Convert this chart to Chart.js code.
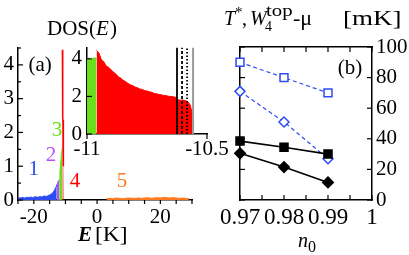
<!DOCTYPE html>
<html>
<head>
<meta charset="utf-8">
<script src="https://cdn.jsdelivr.net/npm/chart.js@4.4.1/dist/chart.umd.min.js"></script>
<style>
html, body { margin: 0; padding: 0; background: #fff; }
#wrap { position: relative; width: 409px; height: 255px; overflow: hidden; }
canvas { position: absolute; }
</style>
</head>
<body>
<div id="wrap">
  <canvas id="dos" width="200" height="255" style="left:0;top:0"></canvas>
  <canvas id="temps" width="209" height="255" style="left:200px;top:0"></canvas>
  <canvas id="inset" width="180" height="140" style="left:60px;top:30px"></canvas>
</div>
<script>
// panel (a): DOS(E), E in K, one piece per colour
const eBlue = [-25, -24.5, -24, -23.5, -23, -22.5, -22, -21.5, -21, -20.5, -20, -19.5, -19,
  -18.5, -18, -17.5, -17, -16.5, -16, -15.5, -15, -14.5, -14, -13.5, -13, -12.75];
const dosBlue = [0.05, 0.07, 0.06, 0.08, 0.06, 0.07, 0.08, 0.07, 0.09, 0.07, 0.08, 0.1, 0.08,
  0.09, 0.1, 0.09, 0.11, 0.12, 0.1, 0.13, 0.15, 0.17, 0.22, 0.28, 0.38, 0.45];
const ePurple = [-12.75, -12.5, -12.25, -12];
const dosPurple = [0.45, 0.5, 0.56, 0.6];
const eGreen = [-12, -11.75, -11.5, -11.25, -11];
const dosGreen = [0.6, 0.85, 1.1, 1.35, 1.55];
const eOrange = [3, 4, 5, 6, 7, 8, 9, 10, 11, 12, 13, 14, 15, 16, 17, 18, 19, 20, 21, 22, 23, 24, 25, 26, 27, 28, 29];
const dosOrange = [0.04, 0.05, 0.04, 0.06, 0.05, 0.04, 0.05, 0.06, 0.05, 0.05, 0.06, 0.05, 0.06, 0.07,
  0.05, 0.06, 0.07, 0.06, 0.08, 0.07, 0.06, 0.07, 0.06, 0.05, 0.06, 0.05, 0.04];

// inset: zoom on -11 .. -10.5
const eInGreen = [-11, -10.995, -10.99, -10.985, -10.98, -10.975, -10.97, -10.965, -10.96];
const dosInGreen = [4.0, 4.05, 4.02, 3.9, 3.95, 4.05, 4.03, 4.06, 4.0];
const eInRed = [-10.96, -10.95, -10.94, -10.93, -10.92, -10.91, -10.9, -10.89, -10.88, -10.87,
  -10.86, -10.85, -10.84, -10.83, -10.82, -10.81, -10.8, -10.79, -10.78, -10.77,
  -10.76, -10.75, -10.74, -10.73, -10.72, -10.71, -10.7, -10.69, -10.68, -10.67,
  -10.66, -10.65, -10.64, -10.63, -10.62, -10.61, -10.6, -10.59, -10.58, -10.57, -10.56];
const dosInRed = [4.45, 4.3, 3.95, 3.85, 3.62, 3.55, 3.42, 3.3, 3.2, 3.05,
  2.98, 2.86, 2.8, 2.7, 2.62, 2.58, 2.5, 2.46, 2.4, 2.37,
  2.31, 2.29, 2.25, 2.22, 2.16, 2.14, 2.1, 2.09, 2.05, 2.04,
  2.01, 1.99, 1.98, 1.95, 1.82, 1.8, 1.81, 1.78, 1.72, 1.55, 1.0];
const markE = [-10.625, -10.604, -10.583, -10.558];

// panel (b)
const n0 = [0.97, 0.98, 0.99];
const blueSquares = [90, 80, 70];
const blueDiamonds = [71, 51, 27];
const blackSquares = [38.5, 34.5, 30];
const blackDiamonds = [30.5, 21.5, 11.5];

const BLUE = '#2c4cf2', PURPLE = '#b650ff', GREEN = '#6ade1c', RED = '#ff0000', ORANGE = '#ff7a1e';
const SERIF = "'Liberation Serif'";
const tickFont = { family: SERIF, size: 21 };

Chart.defaults.color = '#000';
Chart.defaults.font.family = SERIF;

const onStep = (v, step) => Math.abs(v / step - Math.round(v / step)) < 1e-6;
const pts = (xs, ys) => xs.map((x, i) => ({ x: x, y: ys[i] }));
const f = (size, style) => (style ? style + ' ' : '') + size + 'px ' + SERIF;

function area(xs, ys, color, w) {
  return {
    data: pts(xs, ys),
    borderColor: color,
    backgroundColor: color,
    borderWidth: w || 1,
    fill: 'origin',
    pointRadius: 0,
    tension: 0
  };
}

// tick marks drawn at the scale's own tick values
function tickMarks(specs) {
  return {
    id: 'tickMarks',
    afterDraw(chart) {
      const ctx = chart.ctx, a = chart.chartArea;
      ctx.save();
      ctx.strokeStyle = '#000';
      ctx.lineWidth = 1.2;
      specs.forEach(s => {
        const sc = chart.scales[s.axis];
        sc.ticks.forEach(t => {
          const v = t.value;
          if (!onStep(v, s.step)) return;
          const len = onStep(v, s.major || s.step) ? s.len : s.len * 0.6;
          const p = sc.getPixelForValue(v);
          ctx.beginPath();
          if (s.edge === 'bottom') { ctx.moveTo(p, a.bottom); ctx.lineTo(p, a.bottom + s.dir * len); }
          else if (s.edge === 'top') { ctx.moveTo(p, a.top); ctx.lineTo(p, a.top + s.dir * len); }
          else if (s.edge === 'left') { ctx.moveTo(a.left, p); ctx.lineTo(a.left + s.dir * len, p); }
          else { ctx.moveTo(a.right, p); ctx.lineTo(a.right + s.dir * len, p); }
          ctx.stroke();
        });
      });
      ctx.restore();
    }
  };
}

// free text; items with data:true are placed through the x/y scales
function textLayer(items) {
  return {
    id: 'textLayer',
    afterDraw(chart) {
      const ctx = chart.ctx;
      items.forEach(it => {
        let x = it.x, y = it.y;
        if (it.data) {
          x = chart.scales.x.getPixelForValue(it.x);
          y = chart.scales.y.getPixelForValue(it.y);
        }
        ctx.save();
        ctx.translate(x, y);
        ctx.scale(it.sx || 1, 1);
        ctx.font = it.font;
        ctx.fillStyle = it.color || '#000';
        ctx.textAlign = it.align || 'left';
        ctx.textBaseline = it.base || 'alphabetic';
        ctx.fillText(it.text, 0, 0);
        ctx.restore();
      });
    }
  };
}

function drawAll() {
  // ---- panel (a)
  new Chart(document.getElementById('dos'), {
    type: 'line',
    data: {
      datasets: [
        area(eInRed, dosInRed, RED, 1.5),
        area(eGreen, dosGreen, GREEN),
        area(ePurple, dosPurple, PURPLE),
        area(eBlue, dosBlue, BLUE),
        area(eOrange, dosOrange, ORANGE)
      ]
    },
    options: {
      responsive: false,
      animation: false,
      layout: { padding: { top: 48, right: 8, left: 0, bottom: 0 } },
      plugins: { legend: { display: false }, tooltip: { enabled: false } },
      scales: {
        x: {
          type: 'linear', min: -25, max: 30,
          ticks: { stepSize: 5, autoSkip: false, maxRotation: 0, minRotation: 0, padding: 5, font: tickFont,
            callback: v => (onStep(v, 20) ? String(v) : '') },
          grid: { display: false, drawTicks: false },
          border: { color: '#000', width: 1.5 },
          afterFit: s => { s.height = 55; }
        },
        y: {
          min: 0, max: 4.5,
          ticks: { stepSize: 0.5, autoSkip: false, padding: 4, font: tickFont,
            callback: v => (onStep(v, 1) ? String(v) : '') },
          grid: { display: false, drawTicks: false },
          border: { color: '#000', width: 1.5 },
          afterFit: s => { s.width = 18; }
        }
      }
    },
    plugins: [
      tickMarks([
        { axis: 'x', edge: 'bottom', dir: 1, step: 5, major: 5, len: 4 },
        { axis: 'y', edge: 'left', dir: 1, step: 0.5, major: 1, len: 5 }
      ]),
      textLayer([
        { text: 'DOS(', x: 47, y: 35, font: f(21) },
        { text: 'E', x: 96, y: 35, font: f(21, 'italic') },
        { text: ')', x: 110, y: 35, font: f(21) },
        { text: 'E', x: 78, y: 241, font: f(21, 'bold italic') },
        { text: '[K]', x: 95, y: 241, font: f(21), sx: 1.12 },
        { text: '(a)', data: true, x: -18, y: 3.98, font: f(21), align: 'center', base: 'middle' },
        { text: '1', data: true, x: -20, y: 0.89, font: f(21), color: BLUE, align: 'center', base: 'middle' },
        { text: '2', data: true, x: -14.6, y: 1.31, font: f(21), color: PURPLE, align: 'center', base: 'middle' },
        { text: '3', data: true, x: -12.7, y: 2.05, font: f(21), color: GREEN, align: 'center', base: 'middle' },
        { text: '4', data: true, x: -7, y: 0.56, font: f(21), color: RED, align: 'center', base: 'middle' },
        { text: '5', data: true, x: 7.9, y: 0.56, font: f(21), color: ORANGE, align: 'center', base: 'middle' }
      ])
    ]
  });

  // ---- inset
  const markStyles = [
    { color: '#000', width: 1.8, dash: [] },
    { color: '#000', width: 1.8, dash: [3, 2] },
    { color: '#000', width: 1.8, dash: [1.5, 2] },
    { color: '#9a9a9a', width: 2, dash: [] }
  ];
  const insetTop = 4.6;
  const markSets = markE.map((e, i) => ({
    data: pts([e, e], [0, insetTop]),
    borderColor: markStyles[i].color,
    borderWidth: markStyles[i].width,
    borderDash: markStyles[i].dash,
    pointRadius: 0,
    fill: false
  }));

  new Chart(document.getElementById('inset'), {
    type: 'line',
    data: {
      datasets: markSets.concat([
        area(eInRed, dosInRed, RED),
        area(eInGreen, dosInGreen, GREEN)
      ])
    },
    options: {
      responsive: false,
      animation: false,
      layout: { padding: { top: 17, right: 33, left: 0, bottom: 0 } },
      plugins: { legend: { display: false }, tooltip: { enabled: false } },
      scales: {
        x: {
          type: 'linear', min: -11, max: -10.5,
          ticks: { stepSize: 0.5, autoSkip: false, maxRotation: 0, minRotation: 0, padding: 3, font: tickFont,
            callback: v => String(v) },
          grid: { display: false, drawTicks: false },
          border: { color: '#000', width: 1.5 },
          afterFit: s => { s.height = 36; }
        },
        y: {
          min: 0, max: insetTop,
          ticks: { stepSize: 2, includeBounds: false, autoSkip: false, padding: 5, font: tickFont,
            callback: v => (onStep(v, 2) ? String(v) : '') },
          grid: { display: false, drawTicks: false },
          border: { color: '#000', width: 1.5 },
          afterFit: s => { s.width = 27; }
        }
      }
    },
    plugins: [
      tickMarks([
        { axis: 'x', edge: 'bottom', dir: 1, step: 0.5, len: 5 },
        { axis: 'y', edge: 'left', dir: 1, step: 2, len: 5 }
      ])
    ]
  });

  // ---- panel (b)
  const axisBorder = { color: '#000', width: 1.5 };
  new Chart(document.getElementById('temps'), {
    type: 'line',
    data: {
      datasets: [
        { data: pts(n0, blackSquares), borderColor: '#000', backgroundColor: '#000', borderWidth: 1.6,
          pointStyle: 'rect', pointRadius: 5.6, pointBackgroundColor: '#000', clip: false },
        { data: pts(n0, blackDiamonds), borderColor: '#000', backgroundColor: '#000', borderWidth: 1.6,
          pointStyle: 'rectRot', pointRadius: 5.2, pointBackgroundColor: '#000', clip: false },
        { data: pts(n0, blueSquares), borderColor: BLUE, borderWidth: 1.2, borderDash: [4, 3],
          pointStyle: 'rect', pointRadius: 5.6, pointBorderWidth: 1.5, pointBackgroundColor: '#fff', clip: false },
        { data: pts(n0, blueDiamonds), borderColor: BLUE, borderWidth: 1.2, borderDash: [4, 3],
          pointStyle: 'rectRot', pointRadius: 5, pointBorderWidth: 1.5, pointBackgroundColor: '#fff', clip: false }
      ]
    },
    options: {
      responsive: false,
      animation: false,
      layout: { padding: 0 },
      plugins: { legend: { display: false }, tooltip: { enabled: false } },
      scales: {
        x: {
          type: 'linear', min: 0.97, max: 1.0,
          ticks: { stepSize: 0.005, autoSkip: false, maxRotation: 0, minRotation: 0, padding: 4,
            font: { family: SERIF, size: 23 },
            callback: v => {
              const r = Math.round(v * 1000);
              if (r % 10 !== 0) return '';
              return r === 1000 ? '1' : (r / 1000).toFixed(2);
            } },
          grid: { display: false, drawTicks: false },
          border: axisBorder,
          afterFit: s => { s.height = 55; }
        },
        xTop: {
          type: 'linear', position: 'top', min: 0.97, max: 1.0,
          ticks: { display: false, stepSize: 0.005 },
          grid: { display: false, drawTicks: false },
          border: axisBorder,
          afterFit: s => { s.height = 47; }
        },
        y: {
          min: 0, max: 100,
          ticks: { display: false, stepSize: 20 },
          grid: { display: false, drawTicks: false },
          border: axisBorder,
          afterFit: s => { s.width = 40; }
        },
        yR: {
          position: 'right', min: 0, max: 100,
          ticks: { stepSize: 20, padding: 4, font: tickFont },
          grid: { display: false, drawTicks: false },
          border: axisBorder,
          afterFit: s => { s.width = 37; }
        }
      }
    },
    plugins: [
      tickMarks([
        { axis: 'x', edge: 'bottom', dir: -1, step: 0.005, len: 5 },
        { axis: 'xTop', edge: 'top', dir: 1, step: 0.005, len: 5 },
        { axis: 'y', edge: 'left', dir: 1, step: 20, len: 5 },
        { axis: 'yR', edge: 'right', dir: -1, step: 20, len: 5 }
      ]),
      textLayer([
        { text: 'T', x: 24, y: 25, font: f(20, 'italic') },
        { text: '*', x: 35, y: 17, font: f(15) },
        { text: ',', x: 42, y: 25, font: f(20) },
        { text: 'W', x: 50, y: 25, font: f(20, 'italic') },
        { text: '4', x: 65, y: 31, font: f(14) },
        { text: 'top', x: 66, y: 16, font: f(16), sx: 1.3 },
        { text: '-\u03bc', x: 93, y: 25, font: f(20), sx: 1.1 },
        { text: '[mK]', x: 143, y: 25, font: f(20), sx: 1.35 },
        { text: '(b)', data: true, x: 0.995, y: 86, font: f(21), align: 'center', base: 'middle' },
        { text: 'n', x: 98, y: 247, font: f(20, 'italic') },
        { text: '0', x: 108, y: 252, font: f(16) }
      ])
    ]
  });
}

Promise.all([
  document.fonts.load("20px 'Liberation Serif'"),
  document.fonts.load("italic 20px 'Liberation Serif'"),
  document.fonts.load("bold italic 20px 'Liberation Serif'")
]).then(drawAll, drawAll);
</script>
</body>
</html>
